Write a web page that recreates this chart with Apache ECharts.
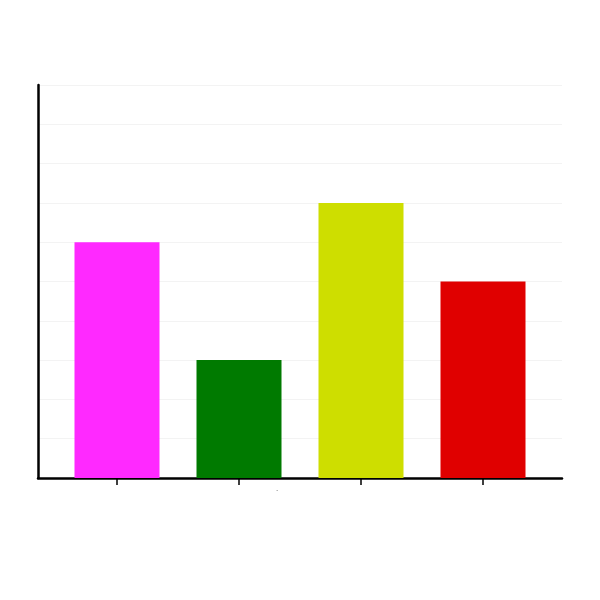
<!DOCTYPE html>
<html><head><meta charset="utf-8">
<script src="https://cdn.jsdelivr.net/npm/echarts@6/dist/echarts.min.js"></script>
<style>html,body{margin:0;padding:0;background:#fff}#c{width:600px;height:600px}</style>
</head><body><div id="c"></div>
<script>
const categories = ['A', 'B', 'C', 'D'];
const values = [6, 3, 7, 5];
const colors = ['#ff29ff', '#007a00', '#cede00', '#e00000'];
const yTicks = [0, 1, 2, 3, 4, 5, 6, 7, 8, 9, 10];

const chart = echarts.init(document.getElementById('c'), null, {renderer: 'canvas'});
chart.setOption({
  animation: false,
  backgroundColor: '#fff',
  grid: [
    {left: 38, right: 38, top: 85, bottom: 122, containLabel: false},
    {left: 56, right: 56, top: 85, bottom: 122, containLabel: false}
  ],
  xAxis: [{
    gridIndex: 0,
    type: 'value', min: 0, max: 1,
    axisLine: {show: true, onZero: false, lineStyle: {color: '#000', width: 2.5}},
    axisTick: {show: false}, axisLabel: {show: false}, splitLine: {show: false}
  }, {
    gridIndex: 1,
    type: 'category',
    data: categories,
    axisLine: {show: false},
    axisTick: {show: true, alignWithLabel: true, length: 7, lineStyle: {color: '#000', width: 1.5}},
    axisLabel: {show: false}
  }],
  yAxis: [{
    gridIndex: 0,
    type: 'value',
    min: yTicks[0],
    max: yTicks[yTicks.length - 1],
    interval: 1,
    axisLine: {show: true, lineStyle: {color: '#000', width: 2.5}},
    axisTick: {show: false},
    axisLabel: {show: false},
    splitLine: {show: true, lineStyle: {color: '#f3f3f3', width: 1}}
  }, {
    gridIndex: 1,
    type: 'value',
    min: yTicks[0],
    max: yTicks[yTicks.length - 1],
    interval: 1,
    show: false
  }],
  graphic: [{type: 'text', left: 276, top: 485, style: {text: '.', fontSize: 8, fill: '#444'}}],
  series: [{
    type: 'bar',
    xAxisIndex: 1, yAxisIndex: 1,
    data: values.map((v, i) => ({value: v, itemStyle: {color: colors[i]}})),
    barWidth: 85
  }]
});
</script></body></html>
